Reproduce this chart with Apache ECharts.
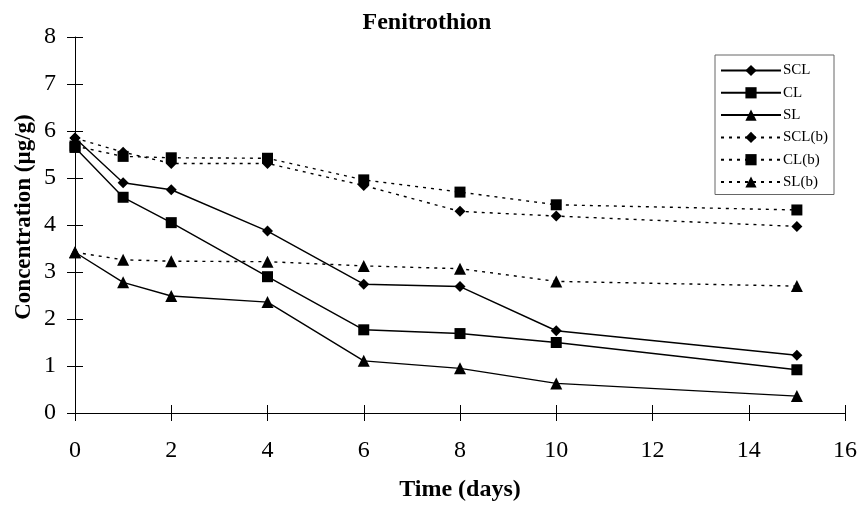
<!DOCTYPE html>
<html>
<head>
<meta charset="utf-8">
<script src="https://cdn.jsdelivr.net/npm/echarts@6/dist/echarts.min.js"></script>
<style>
  html, body { margin: 0; padding: 0; background: #fff; }
  #chart { width: 860px; height: 506px; }
</style>
</head>
<body>
<div id="chart"></div>
<script>
// Sampling days
const days = [0, 1, 2, 4, 6, 8, 10, 15];

// Fenitrothion concentration (µg/g) per soil
const SCL   = [5.85, 4.90, 4.75, 3.87, 2.74, 2.69, 1.75, 1.23];
const CL    = [5.65, 4.59, 4.05, 2.90, 1.77, 1.69, 1.50, 0.92];
const SL    = [3.42, 2.78, 2.49, 2.36, 1.11, 0.95, 0.63, 0.36];
const SCLb  = [5.85, 5.55, 5.31, 5.31, 4.84, 4.29, 4.19, 3.97];
const CLb   = [5.68, 5.46, 5.43, 5.42, 4.96, 4.70, 4.43, 4.32];
const SLb   = [3.42, 3.26, 3.23, 3.22, 3.13, 3.07, 2.80, 2.70];

const seriesNames = ['SCL', 'CL', 'SL', 'SCL(b)', 'CL(b)', 'SL(b)'];
const seriesData = [SCL, CL, SL, SCLb, CLb, SLb];
const symbols = ['diamond', 'rect', 'triangle', 'diamond', 'rect', 'triangle'];
const symbolSizes = [11, 11, 12, 11, 11, 12];

const serif = '"Liberation Serif", "Times New Roman", serif';
const ink = '#000';

const chart = echarts.init(document.getElementById('chart'));

const series = seriesNames.map((name, i) => ({
  name: name,
  type: 'line',
  data: days.map((d, k) => [d, seriesData[i][k]]),
  symbol: symbols[i],
  symbolSize: symbolSizes[i],
  showAllSymbol: true,
  lineStyle: {
    color: ink,
    width: 1.4,
    type: i < 3 ? 'solid' : [3, 5]
  },
  itemStyle: { color: ink },
  emphasis: { disabled: true },
  animation: false,
  z: 3
}));

// Two identical grids: the first carries labels and outward ticks,
// the second adds inward ticks so every tick crosses its axis line.
const gridRect = { left: 75, right: 15, top: 37, bottom: 93 };
const lineStyle = { color: ink, width: 1 };

chart.setOption({
  backgroundColor: '#fff',
  animation: false,
  legend: {
    data: seriesNames,
    orient: 'vertical',
    left: 715,
    top: 55,
    width: 118,
    padding: [8, 6, 5, 5],
    itemWidth: 60,
    itemHeight: 14,
    itemGap: 7.3,
    borderColor: '#666',
    borderWidth: 1,
    backgroundColor: '#fff',
    textStyle: { fontFamily: serif, fontSize: 15, color: ink, padding: [0, 0, 0, -3] }
  },
  grid: [Object.assign({}, gridRect), Object.assign({}, gridRect)],
  xAxis: [
    {
      gridIndex: 0, type: 'value', min: 0, max: 16, interval: 2,
      axisLine: { show: true, onZero: false, lineStyle: lineStyle },
      axisTick: { show: true, inside: false, length: 8, lineStyle: lineStyle },
      axisLabel: { fontFamily: serif, fontSize: 24, color: ink, margin: 26 },
      splitLine: { show: false }
    },
    {
      gridIndex: 1, type: 'value', min: 0, max: 16, interval: 2,
      axisLine: { show: false, onZero: false },
      axisTick: { show: true, inside: true, length: 8, lineStyle: lineStyle },
      axisLabel: { show: false },
      splitLine: { show: false }
    }
  ],
  yAxis: [
    {
      gridIndex: 0, type: 'value', min: 0, max: 8, interval: 1,
      axisLine: { show: true, onZero: false, lineStyle: lineStyle },
      axisTick: { show: true, inside: false, length: 8, lineStyle: lineStyle },
      axisLabel: { fontFamily: serif, fontSize: 24, color: ink, margin: 19 },
      splitLine: { show: false }
    },
    {
      gridIndex: 1, type: 'value', min: 0, max: 8, interval: 1,
      axisLine: { show: false, onZero: false },
      axisTick: { show: true, inside: true, length: 8, lineStyle: lineStyle },
      axisLabel: { show: false },
      splitLine: { show: false }
    }
  ],
  graphic: [
    {
      type: 'text',
      x: 427, y: 23,
      style: {
        text: 'Fenitrothion',
        font: 'bold 24px ' + serif,
        fill: ink,
        align: 'center',
        verticalAlign: 'middle'
      }
    },
    {
      type: 'text',
      x: 24, y: 217,
      rotation: Math.PI / 2,
      style: {
        text: 'Concentration (µg/g)',
        font: 'bold 23px ' + serif,
        fill: ink,
        align: 'center',
        verticalAlign: 'middle'
      }
    },
    {
      type: 'text',
      x: 460, y: 490,
      style: {
        text: 'Time (days)',
        font: 'bold 24px ' + serif,
        fill: ink,
        align: 'center',
        verticalAlign: 'middle'
      }
    }
  ],
  series: series
});
</script>
</body>
</html>
